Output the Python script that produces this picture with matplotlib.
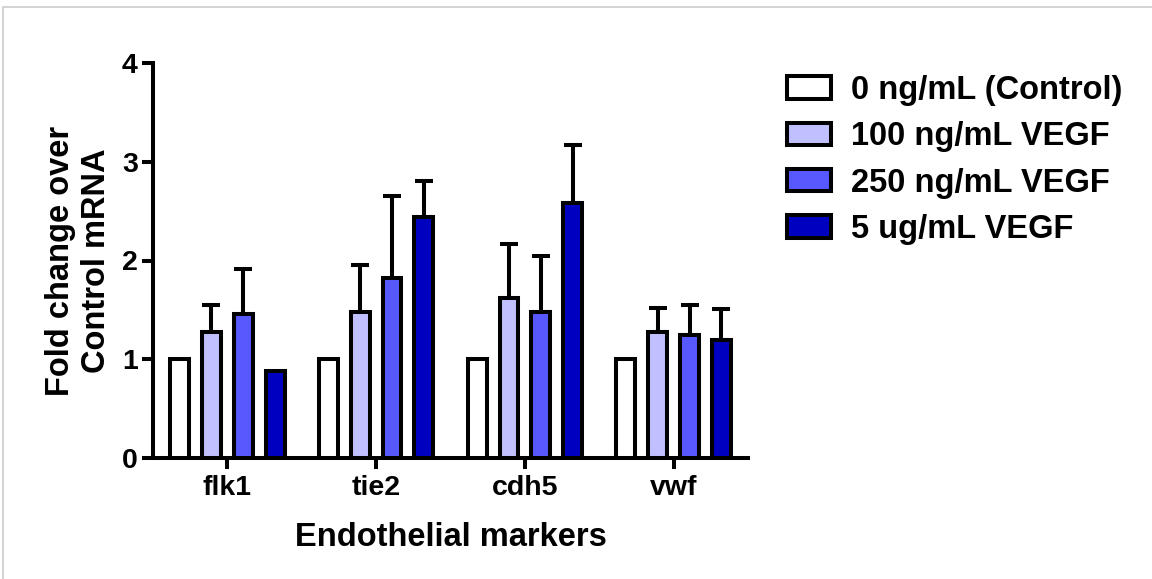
import matplotlib
matplotlib.use("Agg")
import matplotlib.pyplot as plt
import numpy as np
from matplotlib.patches import Rectangle

plt.rcParams['font.family'] = ['Liberation Sans', 'DejaVu Sans']
plt.rcParams['font.weight'] = 'bold'

categories = ["flk1", "tie2", "cdh5", "vwf"]
series_labels = ["0 ng/mL (Control)", "100 ng/mL VEGF", "250 ng/mL VEGF", "5 ug/mL VEGF"]
colors = ["#FFFFFF", "#C0C0FF", "#5858FF", "#0000C0"]

control = [1.0, 1.0, 1.0, 1.0]
vegf100 = [1.28, 1.48, 1.62, 1.28]
vegf250 = [1.46, 1.82, 1.48, 1.25]
vegf5000 = [0.88, 2.44, 2.58, 1.20]

err_control = [0.0, 0.0, 0.0, 0.0]
err_100 = [0.27, 0.47, 0.55, 0.24]
err_250 = [0.45, 0.83, 0.57, 0.30]
err_5000 = [0.0, 0.37, 0.59, 0.31]

means = [control, vegf100, vegf250, vegf5000]
errs = [err_control, err_100, err_250, err_5000]

W, H = 1152, 579
fig = plt.figure(figsize=(W / 100, H / 100), dpi=100)
ax = fig.add_axes([153 / W, 1 - 458 / H, (748 - 153) / W, (458 - 63) / H])

lw = 2.9
x = np.arange(len(categories))
step = 0.214
width = 0.127
for i, (m, e, c, lab) in enumerate(zip(means, errs, colors, series_labels)):
    pos = x + (i - 1.5) * step
    ax.bar(pos, m, width=width, color=c, edgecolor='black', linewidth=lw,
           label=lab, zorder=3)
    e_arr = np.array(e)
    mask = e_arr > 0
    if mask.any():
        ax.errorbar(pos[mask], np.array(m)[mask],
                    yerr=[np.zeros(mask.sum()), e_arr[mask]],
                    fmt='none', ecolor='black', elinewidth=lw, capsize=6.5,
                    capthick=lw, zorder=2)

ax.set_xlim(-0.5, 3.5)
ax.set_ylim(0, 4)
ax.set_yticks([0, 1, 2, 3, 4])
ax.set_xticks(x)
ax.set_xticklabels(categories)
for s in ['top', 'right']:
    ax.spines[s].set_visible(False)
for s in ['left', 'bottom']:
    ax.spines[s].set_linewidth(lw)
ax.tick_params(axis='both', width=lw, length=8, labelsize=20.5)
ax.tick_params(axis='x', pad=4)
ax.tick_params(axis='y', pad=3)
ax.set_xlabel("Endothelial markers", fontsize=23.5, fontweight='bold')
ax.xaxis.set_label_coords(0.5, -(546 - 458) / 395)
ax.xaxis.label.set_va('baseline')
ax.set_ylabel("Fold change over\nControl mRNA", fontsize=23.5, fontweight='bold',
              linespacing=1.2)
ax.yaxis.set_label_coords(-(153 - 112) / 595, 0.5)

fs = 23.5
leg = fig.legend(loc='upper left', bbox_to_anchor=(787 / W, 1 - 75 / H),
                 frameon=False, fontsize=fs, handlelength=1.35, handleheight=0.67,
                 handletextpad=0.6, labelspacing=0.47, borderpad=0, borderaxespad=0)
for p in leg.get_patches():
    p.set_linewidth(lw)

fig.patches.append(Rectangle((3 / W, -0.1), 1.2, 1 - 7 / H + 0.1, transform=fig.transFigure,
                             fill=False, edgecolor='#CCCCCC', linewidth=1.2, zorder=0))

fig.savefig("out.png", dpi=100)
